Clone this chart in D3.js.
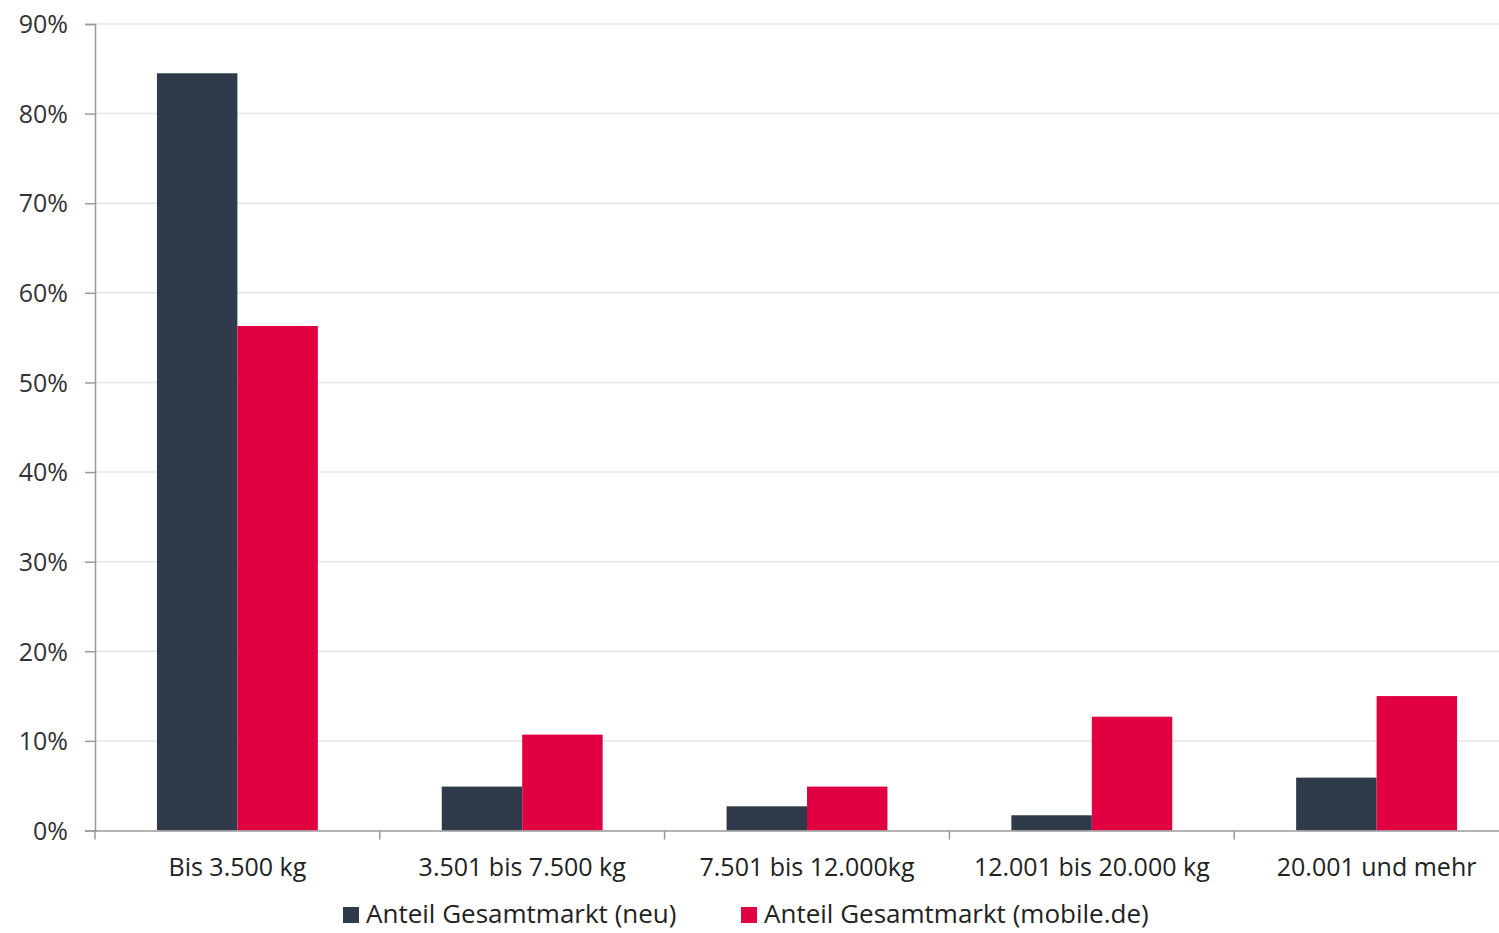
<!DOCTYPE html>
<html><head><meta charset="utf-8">
<script src="https://cdn.jsdelivr.net/npm/d3@7/dist/d3.min.js"></script>
<style>body{margin:0;background:#fff;} svg{display:block;font-family:"Open Sans",sans-serif;}</style>
</head><body>
<svg id="c" width="1499" height="933"></svg>
<script>
const categories = ["Bis 3.500 kg","3.501 bis 7.500 kg","7.501 bis 12.000kg","12.001 bis 20.000 kg","20.001 und mehr"];
const seriesNames = ["Anteil Gesamtmarkt (neu)","Anteil Gesamtmarkt (mobile.de)"];
const valuesNeu = [84.5, 4.9, 2.7, 1.7, 5.9];
const valuesMobile = [56.3, 10.7, 4.9, 12.7, 15.0];
const yTicks = [0,10,20,30,40,50,60,70,80,90];
const colors = ["#2f3a4a","#e10042"];
const FONT = "'Open Sans', sans-serif";

const svg = d3.select("#c");
const mLeft = 95, mRight = 1519, mTop = 24, mBottom = 830.5;
const x = d3.scaleBand().domain(categories).range([mLeft, mRight]).paddingInner(0).paddingOuter(0);
const xs = d3.scaleBand().domain([0,1]).range([0, x.bandwidth()]).paddingInner(0).paddingOuter(0.77);
const y = d3.scaleLinear().domain([0,90]).range([mBottom, mTop]);

// gridlines
svg.append("g").selectAll("line").data(yTicks.filter(d=>d>0)).join("line")
  .attr("x1", mLeft).attr("x2", mRight).attr("y1", d=>y(d)).attr("y2", d=>y(d))
  .attr("stroke","#e4e6e8").attr("stroke-width",1.5);

// bars
const data = categories.map((c,i)=>({c, v:[valuesNeu[i], valuesMobile[i]]}));
const g = svg.append("g").selectAll("g").data(data).join("g").attr("transform", d=>`translate(${x(d.c)},0)`);
g.selectAll("rect").data(d=>d.v.map((v,k)=>({v,k}))).join("rect")
  .attr("x", d=>xs(d.k)).attr("width", xs.bandwidth())
  .attr("y", d=>y(d.v)).attr("height", d=>mBottom - y(d.v))
  .attr("fill", d=>colors[d.k]);

// y axis
const yAxis = d3.axisLeft(y).tickValues(yTicks).tickFormat(d=>d+"%").tickSize(10).tickPadding(17);
const ya = svg.append("g").attr("transform",`translate(${mLeft},0)`).call(yAxis).attr("font-family",FONT);
ya.select(".domain").attr("stroke","#9a9a9a").attr("stroke-width",1.5);
ya.selectAll(".tick line").attr("stroke","#9a9a9a").attr("stroke-width",1.5);
ya.selectAll("text").attr("font-size",25).attr("fill","#333").attr("dy","0.35em");

// x axis
const xa = svg.append("g").attr("transform",`translate(0,${mBottom})`).call(d3.axisBottom(x).tickSize(0).tickPadding(28)).attr("font-family",FONT);
xa.select(".domain").attr("stroke","#9a9a9a").attr("stroke-width",1.5);
xa.selectAll("text").attr("font-size",25).attr("fill","#222");
const bounds = categories.map(c=>x(c)).concat([mRight]);
svg.append("g").selectAll("line").data(bounds).join("line")
  .attr("x1",d=>d).attr("x2",d=>d).attr("y1",mBottom).attr("y2",mBottom+9)
  .attr("stroke","#9a9a9a").attr("stroke-width",1.5);

// legend
const legX = [343, 741];
const lg = svg.append("g").attr("font-family",FONT).selectAll("g").data(seriesNames).join("g")
  .attr("transform",(d,i)=>`translate(${legX[i]},914)`);
lg.append("rect").attr("x",0).attr("y",-7).attr("width",16).attr("height",16).attr("fill",(d,i)=>colors[i]);
lg.append("text").attr("x",23).attr("y",0).attr("dy","0.35em").attr("font-size",26).attr("fill","#222").text(d=>d);
</script>
</body></html>
